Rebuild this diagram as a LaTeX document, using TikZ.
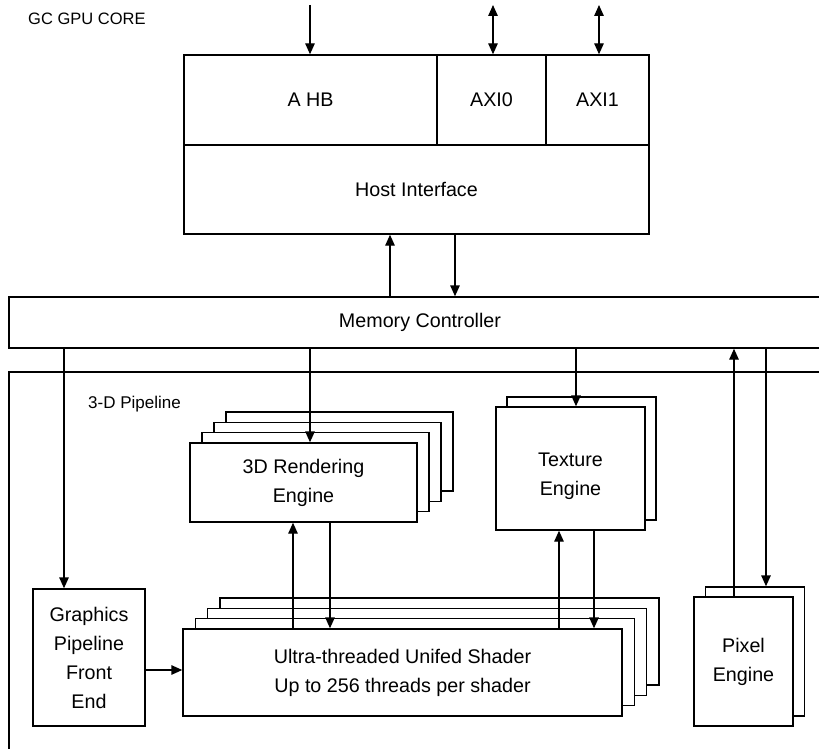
\documentclass[tikz,border=0pt]{standalone}
\usepackage{fontspec}
\setmainfont{Liberation Sans}
\usetikzlibrary{arrows.meta,positioning}

\begin{document}
\begin{tikzpicture}[x=1pt, y=-1pt,
  panel/.style={rectangle, draw, line width=1.4pt, fill=white, inner sep=0pt,
                align=center, font=\fontsize{19.7}{29}\selectfont},
  hostbox/.style={panel, minimum height=90pt},
  renderbox/.style={panel, minimum width=227pt, minimum height=79pt},
  texbox/.style={panel, minimum width=149pt, minimum height=123pt},
  shaderbox/.style={panel, minimum width=439pt, minimum height=87pt},
  pixelbox/.style={panel, minimum width=99pt, minimum height=129pt},
  frame/.style={line width=1.4pt},
  arrow/.style={-{Triangle[length=11pt, width=9.5pt]}, line width=1.4pt},
  twoway/.style={{Triangle[length=11pt, width=9.5pt]}-{Triangle[length=11pt, width=9.5pt]}, line width=1.4pt}
]
\useasboundingbox (0,0) rectangle (819,749);

\node[font=\fontsize{16.5}{20}\selectfont, inner sep=0pt, anchor=base west] (title) at (28,25) {GC GPU CORE};

% host side
\node[hostbox, minimum width=253pt] (ahb) at (310.5,100) {A HB};
\node[hostbox, minimum width=109pt] (axi0) at (491.5,100) {AXI0};
\node[hostbox, minimum width=103pt] (axi1) at (597.5,100) {AXI1};
\node[panel, minimum width=465pt, minimum height=89pt] (host) at (416.5,189.5) {Host Interface};

\coordinate (ahbin) at (310,5);
\coordinate (axi0in) at (493,5);
\coordinate (axi1in) at (599,5);
\draw[arrow] (ahbin) -- (ahbin |- ahb.north);
\draw[twoway] (axi0in) -- (axi0in |- axi0.north);
\draw[twoway] (axi1in) -- (axi1in |- axi1.north);

% memory controller (runs off the right edge)
\node[panel, minimum width=822pt, minimum height=51pt] (mem) at (420,322.5) {Memory Controller};

\draw[arrow] (390,0 |- mem.north) -- (390,0 |- host.south);
\draw[arrow] (455,0 |- host.south) -- (455,0 |- mem.north);

% 3-D pipeline frame
\draw[frame] (830,372) -- (9,372) -- (9,760);
\node[font=\fontsize{17}{20}\selectfont, inner sep=0pt, anchor=base west] (pipe) at (88,408) {3-D Pipeline};

% stacked engines
\foreach \i in {3,2,1}
  \node[renderbox] (render\i) at (303.5+12*\i, 482.5-10.3*\i) {};
\node[renderbox] (render) at (303.5,482.5) {3D Rendering\\Engine};

\node[texbox] (texture1) at (581.5,458.5) {};
\node[texbox] (texture) at (570.5,468.5)
  {\raisebox{-7pt}[\height][\depth]{\begin{tabular}{@{}c@{}}Texture\\Engine\end{tabular}}};

\foreach \i in {3,2,1}
  \node[shaderbox] (shader\i) at (402.5+12.3*\i, 672.5-10.3*\i) {};
\node[shaderbox] (shader) at (402.5,672.5) {Ultra-threaded Unifed Shader\\Up to 256 threads per shader};

\node[pixelbox] (pixel1) at (755,651.5) {};
\node[pixelbox] (pixel) at (743.5,661.5) {Pixel\\Engine};

\node[panel, minimum width=112pt, minimum height=137pt] (gpfe) at (89,657.5) {Graphics\\Pipeline\\Front\\End};

% data paths
\draw[arrow] (64,0 |- mem.south) -- (64,0 |- gpfe.north);
\draw[arrow] (310,0 |- mem.south) -- (310,0 |- render.north);
\draw[arrow] (576,0 |- mem.south) -- (576,0 |- texture.north);
\draw[arrow] (734,0 |- pixel.north) -- (734,0 |- mem.south);
\draw[arrow] (766,0 |- mem.south) -- (766,0 |- pixel1.north);
\draw[arrow] (gpfe.east |- 0,670) -- (shader.west |- 0,670);
\draw[arrow] (293,0 |- shader.north) -- (293,0 |- render.south);
\draw[arrow] (330,0 |- render.south) -- (330,0 |- shader.north);
\draw[arrow] (559,0 |- shader.north) -- (559,0 |- texture.south);
\draw[arrow] (594,0 |- texture.south) -- (594,0 |- shader.north);

\end{tikzpicture}
\end{document}
